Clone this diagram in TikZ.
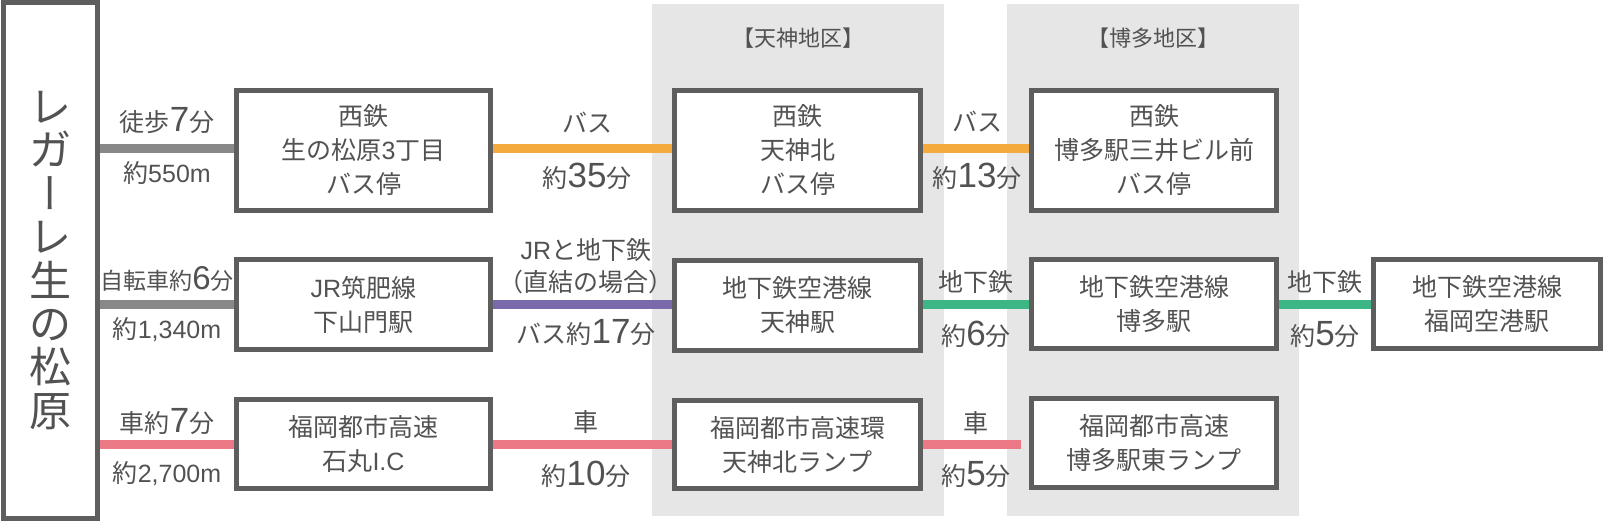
\documentclass[tikz,border=0pt]{standalone}
\usepackage{fontspec}
\setmainfont{Noto Sans CJK JP}
\newfontfamily\jpvert[RawFeature=+vert]{Noto Sans CJK JP}
\newfontfamily\lat{Liberation Sans}
\definecolor{txt}{HTML}{525252}
\definecolor{boxc}{HTML}{5E5E5E}
\definecolor{areac}{HTML}{E6E6E6}
\definecolor{grayc}{HTML}{888888}
\definecolor{orangec}{HTML}{F4AA3C}
\definecolor{purplec}{HTML}{7A6AAC}
\definecolor{greenc}{HTML}{3CB684}
\definecolor{pinkc}{HTML}{EC7A86}
\newcommand\bignum[1]{{\lat\fontsize{35}{35}\selectfont #1}}
\begin{document}
\begin{tikzpicture}[x=1pt,y=-1pt,
  box/.style={draw=boxc, line width=3.2pt, fill=white, inner sep=0pt, align=center,
    text=txt, font=\fontsize{25}{34}\selectfont},
  lbl/.style={text=txt, font=\fontsize{25}{30}\selectfont, anchor=base, inner sep=0pt},
  hdr/.style={text=txt, font=\fontsize{22}{26}\selectfont, inner sep=0pt},
  conn/.style={line width=9pt},
  area/.style={fill=areac, draw=none}]
\useasboundingbox (0,0) rectangle (1604,521);
% district backgrounds
\fill[area] (652,4) rectangle (944,516);
\fill[area] (1007,4) rectangle (1299,516);
\node[hdr] (hT) at (798,38) {【天神地区】};
\node[hdr] (hH) at (1153,38) {【博多地区】};
% title
\node[box, minimum width=92, minimum height=514, font=\fontsize{42}{43.4}\selectfont]
  (title) at (50.5,260.5) {レ\\ガ\\{\jpvert ー}\\レ\\生\\の\\松\\原};
% boxes
\node[box, minimum width=252, minimum height=118] (b1) at (363.5,150.5) {西鉄\\生の松原{\lat 3}丁目\\バス停};
\node[box, minimum width=252, minimum height=88] (b2) at (363.5,304.5) {{\lat JR}筑肥線\\下山門駅};
\node[box, minimum width=252, minimum height=87] (b3) at (363.5,444) {福岡都市高速\\石丸{\lat I.C}};
\node[box, minimum width=244, minimum height=118] (t1) at (797.5,150.5) {西鉄\\天神北\\バス停};
\node[box, minimum width=244, minimum height=89] (t2) at (797.5,305.5) {地下鉄空港線\\天神駅};
\node[box, minimum width=244, minimum height=87] (t3) at (797.5,444.5) {福岡都市高速環\\天神北ランプ};
\node[box, minimum width=243, minimum height=118] (h1) at (1154,150.5) {西鉄\\博多駅三井ビル前\\バス停};
\node[box, minimum width=243, minimum height=88] (h2) at (1154,304) {地下鉄空港線\\博多駅};
\node[box, minimum width=243, minimum height=87] (h3) at (1154,443) {福岡都市高速\\博多駅東ランプ};
\node[box, minimum width=225, minimum height=88] (a2) at (1487,304) {地下鉄空港線\\福岡空港駅};
% connectors
\draw[conn, grayc] (title.east |- 0,149) coordinate (s1) -- (b1.west |- s1);
\draw[conn, grayc] (title.east |- 0,305) coordinate (s2) -- (b2.west |- s2);
\draw[conn, pinkc] (title.east |- 0,444) coordinate (s3) -- (b3.west |- s3);
\draw[conn, orangec] (b1.east |- s1) -- (t1.west |- s1);
\draw[conn, orangec] (t1.east |- s1) -- (h1.west |- s1);
\draw[conn, purplec] (b2.east |- s2) -- (t2.west |- s2);
\draw[conn, greenc] (t2.east |- s2) -- (h2.west |- s2);
\draw[conn, greenc] (h2.east |- s2) -- (a2.west |- s2);
\draw[conn, pinkc] (b3.east |- s3) -- (t3.west |- s3);
\draw[conn, pinkc, shorten >=10pt] (t3.east |- s3) -- (h3.west |- s3);
% redraw box outlines on top of connectors
\foreach \n in {title,b1,b2,b3,t1,t2,t3,h1,h2,h3,a2}{
  \draw[boxc, line width=3.2pt] (\n.north west) rectangle (\n.south east);}
% labels row 1
\node[lbl] (l11) at (167,132) {徒歩\bignum{7}分};
\node[lbl] (l12) at (167,183) {約{\lat 550m}};
\node[lbl] (l13) at (587,133) {バス};
\node[lbl] (l14) at (587,188) {約\bignum{35}分};
\node[lbl] (l15) at (977,132) {バス};
\node[lbl] (l16) at (977,188) {約\bignum{13}分};
% labels row 2
\node[lbl, font=\fontsize{23}{28}\selectfont] (l21) at (167,290) {自転車約{\lat\fontsize{33}{33}\selectfont 6}分};
\node[lbl] (l22) at (167,338) {約{\lat 1,340m}};
\node[lbl] (l23) at (586,260) {{\lat JR}と地下鉄};
\node[lbl] (l24) at (586,292) {（直結の場合）};
\node[lbl] (l25) at (586,344) {バス約\bignum{17}分};
\node[lbl] (l26) at (976,292) {地下鉄};
\node[lbl] (l27) at (976,345) {約\bignum{6}分};
\node[lbl] (l28) at (1325,292) {地下鉄};
\node[lbl] (l29) at (1325,345) {約\bignum{5}分};
% labels row 3
\node[lbl] (l31) at (167,432) {車約\bignum{7}分};
\node[lbl] (l32) at (167,482) {約{\lat 2,700m}};
\node[lbl] (l33) at (586,431) {車};
\node[lbl] (l34) at (586,485) {約\bignum{10}分};
\node[lbl] (l35) at (976,432) {車};
\node[lbl] (l36) at (976,485) {約\bignum{5}分};
\end{tikzpicture}
\end{document}
